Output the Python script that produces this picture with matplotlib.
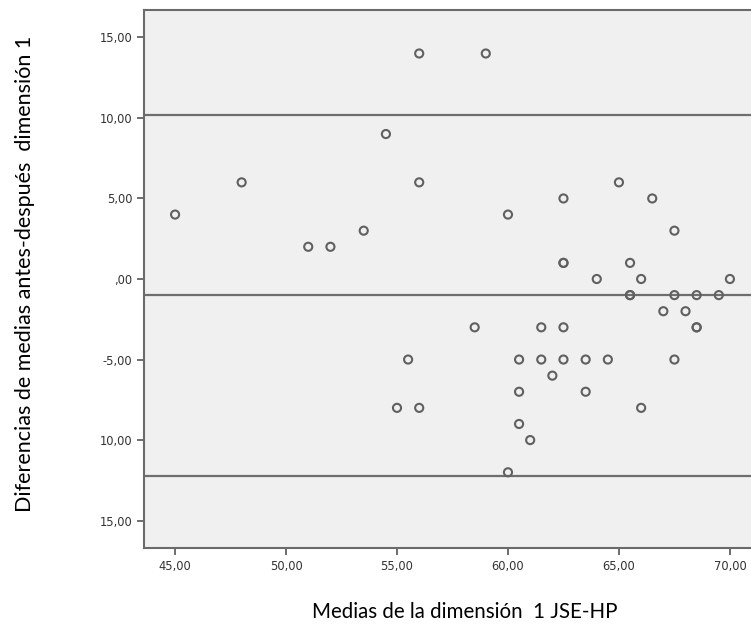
import matplotlib.pyplot as plt
import numpy as np

# medias de la dimension 1 (x) y diferencias antes-despues (y)
medias = np.array([45, 48, 51, 52, 53.5, 54.5, 56, 59, 56, 55.5, 55, 56, 58.5, 60, 60,
                   65, 62.5, 66.5, 67.5, 62.5, 62.5, 65.5, 64, 66, 70, 65.5, 65.5, 67.5,
                   68.5, 69.5, 67, 68, 61.5, 62.5, 68.5, 68.5, 60.5, 61.5, 62.5, 63.5,
                   64.5, 67.5, 62, 60.5, 63.5, 66, 60.5, 61])
diferencias = np.array([4, 6, 2, 2, 3, 9, 14, 14, 6, -5, -8, -8, -3, 4, -12,
                        6, 5, 5, 3, 1, 1, 1, 0, 0, 0, -1, -1, -1,
                        -1, -1, -2, -2, -3, -3, -3, -3, -5, -5, -5, -5,
                        -5, -5, -6, -7, -7, -8, -9, -10])

media_dif = -1.0
lim_sup = 10.2
lim_inf = -12.2

y_ticks = [15, 10, 5, 0, -5, -10, -15]
y_labels = ['15,00', '10,00', '5,00', ',00', '-5,00', '10,00', '15,00']
x_ticks = [45, 50, 55, 60, 65, 70]
x_labels = ['45,00', '50,00', '55,00', '60,00', '65,00', '70,00']

fig = plt.figure(figsize=(7.51, 6.26), dpi=100)
ax = fig.add_axes([144 / 751, 78 / 626, 607 / 751, 538 / 626])
ax.set_facecolor('#f0f0f0')

for v in [lim_sup, media_dif, lim_inf]:
    ax.axhline(v, color='#6e6e6e', lw=1.6, zorder=1)

ax.scatter(medias, diferencias, s=34, facecolors='none', edgecolors='#606060',
           linewidths=1.5, zorder=3)

ax.set_xlim(43.6, 70.95)
ax.set_ylim(-16.7, 16.7)
ax.set_xticks(x_ticks)
ax.set_xticklabels(x_labels)
ax.set_yticks(y_ticks)
ax.set_yticklabels(y_labels)
ax.tick_params(labelsize=8.3, length=5, width=1.2, color='#555555', labelcolor='#333333')

for s in ['left', 'bottom', 'top']:
    ax.spines[s].set_color('#6a6a6a')
    ax.spines[s].set_linewidth(1.5)
ax.spines['right'].set_visible(False)

fig.text(465 / 751, 1 - 612 / 626, 'Medias de la dimensión  1 JSE-HP', fontsize=14.8,
         family='Lato', ha='center', va='center')
fig.text(25 / 751, 1 - 274 / 626, 'Diferencias de medias antes-después  dimensión 1',
         fontsize=15.5, family='Lato', ha='center', va='center', rotation=90)

fig.savefig('out.png', dpi=100)
